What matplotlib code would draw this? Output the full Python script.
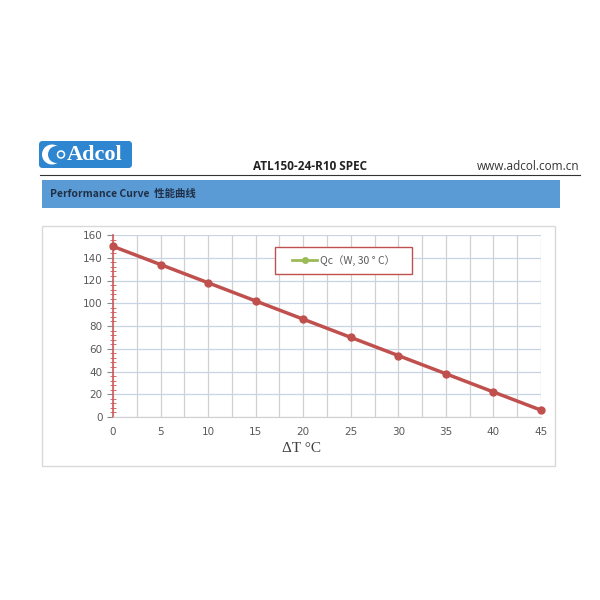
import matplotlib
matplotlib.use("Agg")
import matplotlib.pyplot as plt
from matplotlib.patches import Rectangle, FancyBboxPatch, Circle
from matplotlib.lines import Line2D
from matplotlib.ticker import MultipleLocator

delta_t = [0, 5, 10, 15, 20, 25, 30, 35, 40, 45]
qc = [150, 134, 118, 102, 86, 70, 54, 38, 22, 6]
x_ticks = [0, 5, 10, 15, 20, 25, 30, 35, 40, 45]
y_ticks = [0, 20, 40, 60, 80, 100, 120, 140, 160]
series_label = "Qc（W, 30 ° C）"
title_text = "ATL150-24-R10 SPEC"
url_text = "www.adcol.com.cn"
banner_text = "Performance Curve  性能曲线"
xlabel_text = "ΔT °C"

W = H = 600
fig = plt.figure(figsize=(6, 6), dpi=100)
fig.patch.set_facecolor("white")

def fx(px):
    return px / W

def fy(py):
    return 1 - py / H

# Header
logo = FancyBboxPatch((fx(39), fy(168)), fx(93), (168 - 141) / H,
                      boxstyle="round,pad=0,rounding_size=0.006",
                      transform=fig.transFigure, facecolor="#2E86D1",
                      edgecolor="none", zorder=0.5)
fig.patches.append(logo)
fig.patches.append(Circle((fx(52), fy(154.5)), 10 / W, transform=fig.transFigure,
                          facecolor="white", edgecolor="none", zorder=0.6))
fig.patches.append(Circle((fx(56.5), fy(154.5)), 8.5 / W, transform=fig.transFigure,
                          facecolor="#2E86D1", edgecolor="none", zorder=0.7))
fig.patches.append(Circle((fx(61), fy(154.5)), 3.5 / W, transform=fig.transFigure,
                          facecolor="none", edgecolor="white", linewidth=1.1,
                          zorder=0.8))
fig.text(fx(67), fy(155), "Adcol", color="white", fontsize=16, fontweight="bold",
         family="Liberation Serif", ha="left", va="center")

fig.text(fx(310), fy(167), title_text, fontsize=8.5, fontweight="bold",
         family="Open Sans", ha="center", va="center", color="#222222")
fig.text(fx(579), fy(167), url_text, fontsize=8.5, family="Open Sans",
         ha="right", va="center", color="#333333")
fig.add_artist(Line2D([fx(40), fx(580)], [fy(175), fy(175)], color="#333333",
                      linewidth=0.8, transform=fig.transFigure))

# Banner
fig.patches.append(Rectangle((fx(42), fy(208)), fx(518), 28 / H,
                             transform=fig.transFigure, facecolor="#5B9BD5",
                             edgecolor="none", zorder=0.5))
fig.text(fx(50), fy(194), banner_text, fontsize=7.5, fontweight="bold",
         family=["Noto Sans CJK SC", "DejaVu Sans"], ha="left", va="center",
         color="#1F2F45")

# Chart outer box
fig.patches.append(Rectangle((fx(42), fy(466)), fx(513), (466 - 226) / H,
                             transform=fig.transFigure, facecolor="white",
                             edgecolor="#D9D9D9", linewidth=1, zorder=0.5))

ax = fig.add_axes([fx(113), fy(417), fx(541 - 113), (417 - 235) / H])
ax.set_zorder(2)
ax.patch.set_alpha(0)
ax.set_xlim(0, 45)
ax.set_ylim(0, 160)
ax.plot(delta_t, qc, color="#C0504D", linewidth=2.5, marker="o",
        markersize=5, zorder=3, clip_on=False)

ax.set_xticks(x_ticks)
ax.set_yticks(y_ticks)
ax.xaxis.set_minor_locator(MultipleLocator(2.5))
ax.yaxis.set_minor_locator(MultipleLocator(4))
ax.grid(which="major", axis="y", color="#C8D3E3", linewidth=0.9)
ax.grid(which="both", axis="x", color="#D0D0D0", linewidth=0.9)
ax.tick_params(axis="x", which="both", length=0, labelsize=7.5,
               labelcolor="#595959", pad=7)
ax.tick_params(axis="y", which="major", length=4, color="#888888",
               labelsize=7.5, labelcolor="#595959", direction="out")
ax.tick_params(axis="y", which="minor", length=5, color="#D86A6A",
               direction="inout", width=0.7)
for s in ["top", "right"]:
    ax.spines[s].set_visible(False)
ax.spines["left"].set_color("#D05A5A")
ax.spines["left"].set_linewidth(1.2)
ax.spines["bottom"].set_color("#D0D0D0")
ax.set_axisbelow(True)

fig.text(fx(302), fy(449), xlabel_text, fontsize=11, family="Liberation Serif",
         ha="center", va="center", color="#404040")

# Legend frame
frame = Rectangle((fx(275), fy(274)), fx(412 - 275), (274 - 247) / H,
                  transform=fig.transFigure, facecolor="white",
                  edgecolor="#C0504D", linewidth=1, zorder=4)
ax.add_artist(frame)
frame.set_clip_on(False)

handle = Line2D([0], [0], color="#9BBB59", linewidth=2, marker="o", markersize=4)
leg = ax.legend([handle], [series_label], loc="center left",
                bbox_to_anchor=(fx(292), fy(260.5)),
                bbox_transform=fig.transFigure,
                frameon=False, borderpad=0, borderaxespad=0,
                handlelength=2.4, handletextpad=0.3,
                prop={"family": ["Noto Sans CJK SC", "DejaVu Sans"], "size": 7.5})
leg.set_zorder(5)
for t in leg.get_texts():
    t.set_color("#595959")

fig.savefig("out.png", dpi=100)
